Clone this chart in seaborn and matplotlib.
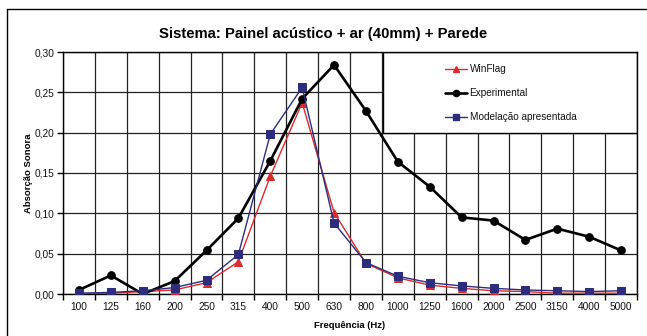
import matplotlib
matplotlib.use("Agg")
import matplotlib.pyplot as plt
import seaborn as sns
import pandas as pd
import numpy as np
from matplotlib.patches import Rectangle
from matplotlib.lines import Line2D
from matplotlib.ticker import FuncFormatter, FixedLocator

sns.set_theme(style="white")
plt.rcParams['font.family'] = ['Liberation Sans', 'DejaVu Sans']
plt.rcParams['text.color'] = 'black'
plt.rcParams['axes.labelcolor'] = 'black'

freqs = ["100", "125", "160", "200", "250", "315", "400", "500", "630", "800",
         "1000", "1250", "1600", "2000", "2500", "3150", "4000", "5000"]
winflag = [0.000, 0.001, 0.003, 0.005, 0.014, 0.040, 0.146, 0.237, 0.101, 0.038,
           0.020, 0.011, 0.007, 0.004, 0.003, 0.001, 0.001, 0.001]
experimental = [0.005, 0.023, 0.000, 0.016, 0.054, 0.094, 0.165, 0.242, 0.284, 0.227,
                0.164, 0.133, 0.095, 0.091, 0.067, 0.081, 0.071, 0.054]
modelacao = [0.001, 0.002, 0.004, 0.008, 0.017, 0.049, 0.198, 0.256, 0.088, 0.039,
             0.022, 0.014, 0.010, 0.007, 0.005, 0.004, 0.003, 0.004]
yticks = [0.00, 0.05, 0.10, 0.15, 0.20, 0.25, 0.30]

pos = np.arange(len(freqs))
W, H = 647, 336
fig = plt.figure(figsize=(W / 100, H / 100), dpi=100)
fig.patch.set_facecolor("white")
ax = fig.add_axes([63 / W, (H - 294) / H, (637 - 63) / W, (294 - 52) / H])

series = [
    ("WinFlag", winflag, "#DC2A2E", "^", 1.0, 5.5),
    ("Experimental", experimental, "#000000", "o", 1.9, 5.5),
    ("Modelação apresentada", modelacao, "#2E2C7C", "s", 1.0, 5.5),
]
handles = []
for i, (name, vals, col, mk, lw, ms) in enumerate(series):
    df = pd.DataFrame({"x": pos, "y": vals})
    sns.lineplot(data=df, x="x", y="y", ax=ax, color=col, marker=mk, lw=lw,
                 markersize=ms, markeredgecolor=col, markerfacecolor=col,
                 sort=False, zorder=3 + i, legend=False)
    handles.append(Line2D([], [], color=col, marker=mk, lw=lw, markersize=ms - 1,
                          markeredgecolor=col, markerfacecolor=col, label=name))

ax.set_xlim(-0.5, len(freqs) - 0.5)
ax.set_ylim(0, 0.30)
ax.xaxis.set_major_locator(FixedLocator(np.arange(-0.5, len(freqs), 1.0)))
ax.set_xticklabels([""] * len(ax.get_xticks()))
ax.set_xticks(pos, minor=True)
ax.set_xticklabels(freqs, minor=True)
ax.set_yticks(yticks)
ax.yaxis.set_major_formatter(FuncFormatter(lambda v, p: f"{v:.2f}".replace(".", ",")))

ax.tick_params(axis="x", which="major", direction="out", length=4, width=1, color="black", bottom=True)
ax.tick_params(axis="x", which="minor", length=0, labelsize=7.3, pad=6, labelcolor="#111111")
ax.tick_params(axis="y", which="major", direction="out", length=4, width=1, color="black",
               left=True, labelsize=7.3, pad=2, labelcolor="#111111")

ax.grid(True, which="major", axis="both", color="#222222", lw=0.9)
ax.set_axisbelow(True)
for s in ax.spines.values():
    s.set_color("black")
    s.set_linewidth(1.0)
    s.set_visible(True)

ax.set_xlabel("Frequência (Hz)", fontsize=6.8, fontweight="bold", labelpad=6, color="black")
ax.set_ylabel("Absorção Sonora", fontsize=6.8, fontweight="bold", labelpad=1, color="black")

# legend box
x0 = (383 - 63) / 574
y0 = (294 - 133) / 242
ax.add_patch(Rectangle((x0, y0), 1 - x0, 1 - y0, transform=ax.transAxes,
                       facecolor="white", edgecolor="black", lw=1.0, zorder=2.5))
leg = ax.legend(handles=handles, loc="upper left",
                bbox_to_anchor=((445 - 63) / 574, (294 - 64) / 242),
                frameon=False, fontsize=7.2, handlelength=2.2, handletextpad=0.25,
                labelspacing=1.4, borderpad=0, borderaxespad=0, labelcolor="#111111")
leg.set_zorder(10)

fig.text(0.5, (H - 34) / H, "Sistema: Painel acústico + ar (40mm) + Parede",
         ha="center", va="center", fontsize=10.7, fontweight="bold", color="black")

# outer frame
fig.add_artist(Line2D([7 / W, 1.0], [(H - 9) / H, (H - 9) / H], transform=fig.transFigure,
                      color="black", lw=1.0))
fig.add_artist(Line2D([7 / W, 7 / W], [0, (H - 9) / H], transform=fig.transFigure,
                      color="black", lw=1.0))

fig.savefig("out.png", dpi=100, facecolor="white")
